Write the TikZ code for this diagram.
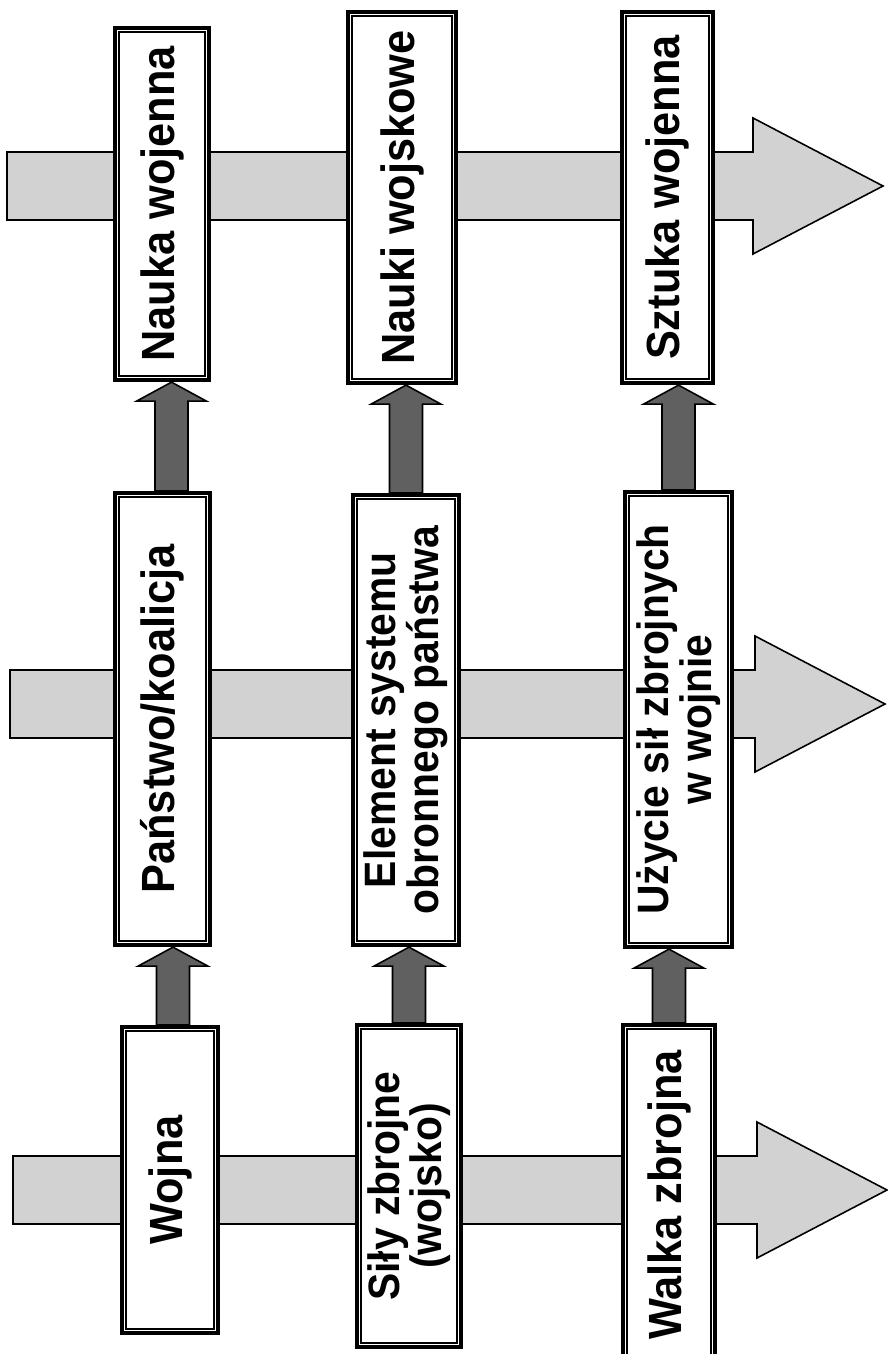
\documentclass[tikz,border=0pt]{standalone}
\usepackage{fontspec}
\setmainfont{Liberation Sans}
\newfontfamily\boxfont[FakeStretch=0.93]{Liberation Sans}
\usetikzlibrary{calc}
\definecolor{sw_grey}{RGB}{210, 210, 210}
\definecolor{sw_dark}{RGB}{96, 96, 96}
\tikzstyle{bx}=[rectangle,rotate=90,fill=white,draw=black,
  line width=2.5pt,inner sep=0pt,align=center,
  font=\boxfont\bfseries\fontsize{26.5}{23}\selectfont]
\tikzstyle{bxtwo}=[bx,font=\boxfont\bfseries\fontsize{25}{23}\selectfont]
\tikzstyle{bigarr}=[fill=sw_grey,draw=black,line width=0.9pt,
  to path={let \p1=(\tikztostart), \p2=(\tikztotarget) in
    (\x1,\y1+0.68cm) -- (\x2-2.6cm,\y1+0.68cm) -- (\x2-2.6cm,\y1+1.36cm)
    -- (\x2,\y1) -- (\x2-2.6cm,\y1-1.36cm) -- (\x2-2.6cm,\y1-0.68cm)
    -- (\x1,\y1-0.68cm) -- cycle}]
\tikzstyle{darr}=[fill=sw_dark,draw=black,line width=0.9pt,
  to path={let \p1=(\tikztostart), \p2=(\tikztotarget) in
    (\x1-0.33cm,\y1) -- (\x1-0.33cm,\y2-0.38cm) -- (\x1-0.7cm,\y2-0.38cm)
    -- (\x1,\y2) -- (\x1+0.7cm,\y2-0.38cm) -- (\x1+0.33cm,\y2-0.38cm)
    -- (\x1+0.33cm,\y1) -- cycle}]

\begin{document}
\begin{tikzpicture}[x=0.02cm, y=-0.02cm]
  \useasboundingbox (0,0) rectangle (888,1354);
  % title, mostly off the page
  \node [anchor=base west,rotate=90,inner sep=0pt,font=\bfseries\fontsize{27}{27}\selectfont] (t) at (-15, 1113) {Sztuka wojenna na tle innych pojęć};
  % big arrows
  \coordinate (a1) at (7, 186);
  \coordinate (b1) at (883, 186);
  \coordinate (a2) at (10, 704);
  \coordinate (b2) at (885, 704);
  \coordinate (a3) at (13, 1190);
  \coordinate (b3) at (887, 1190);
  \draw [style=bigarr] (a1) to (b1);
  \draw [style=bigarr] (a2) to (b2);
  \draw [style=bigarr] (a3) to (b3);
  % boxes
  \node [style=bx, minimum width=7.04cm, minimum height=1.88cm] (0) at (162, 204) {Nauka wojenna};
  \node [style=bx, minimum width=7.42cm, minimum height=2.16cm] (1) at (402, 197.5) {Nauki wojskowe};
  \node [style=bx, minimum width=7.42cm, minimum height=1.82cm] (2) at (667.5, 197.5) {Sztuka wojenna};
  \node [style=bx, minimum width=9.04cm, minimum height=1.9cm] (3) at (162.5, 719) {Państwo/koalicja};
  \node [style=bxtwo, minimum width=9.0cm, minimum height=2.12cm] (4) at (406, 720) {Element systemu\\obronnego państwa};
  \node [style=bxtwo, minimum width=9.1cm, minimum height=2.14cm] (5) at (678.5, 719.5) {Użycie sił zbrojnych\\w wojnie};
  \node [style=bx, minimum width=6.12cm, minimum height=1.92cm] (6) at (170, 1180) {Wojna};
  \node [style=bxtwo, minimum width=6.44cm, minimum height=2.08cm] (7) at (409, 1186) {Siły zbrojne\\(wojsko)};
  \node [style=bx, minimum width=6.8cm, minimum height=1.84cm] (8) at (669, 1195) {Walka zbrojna};
  \foreach \n in {0,...,8}
    \draw [line width=0.8pt] ([shift={(0.12cm,0.12cm)}]\n.north west) rectangle ([shift={(-0.12cm,-0.12cm)}]\n.south east);
  % dark arrows, lower box up to upper box
  \draw [style=darr] ([xshift=0.18cm]3.east) to (0.west);
  \draw [style=darr] (4.east) to (1.west);
  \draw [style=darr] (5.east) to (2.west);
  \draw [style=darr] ([xshift=0.06cm]6.east) to (3.west);
  \draw [style=darr] (7.east) to (4.west);
  \draw [style=darr] (8.east) to (5.west);
\end{tikzpicture}
\end{document}
